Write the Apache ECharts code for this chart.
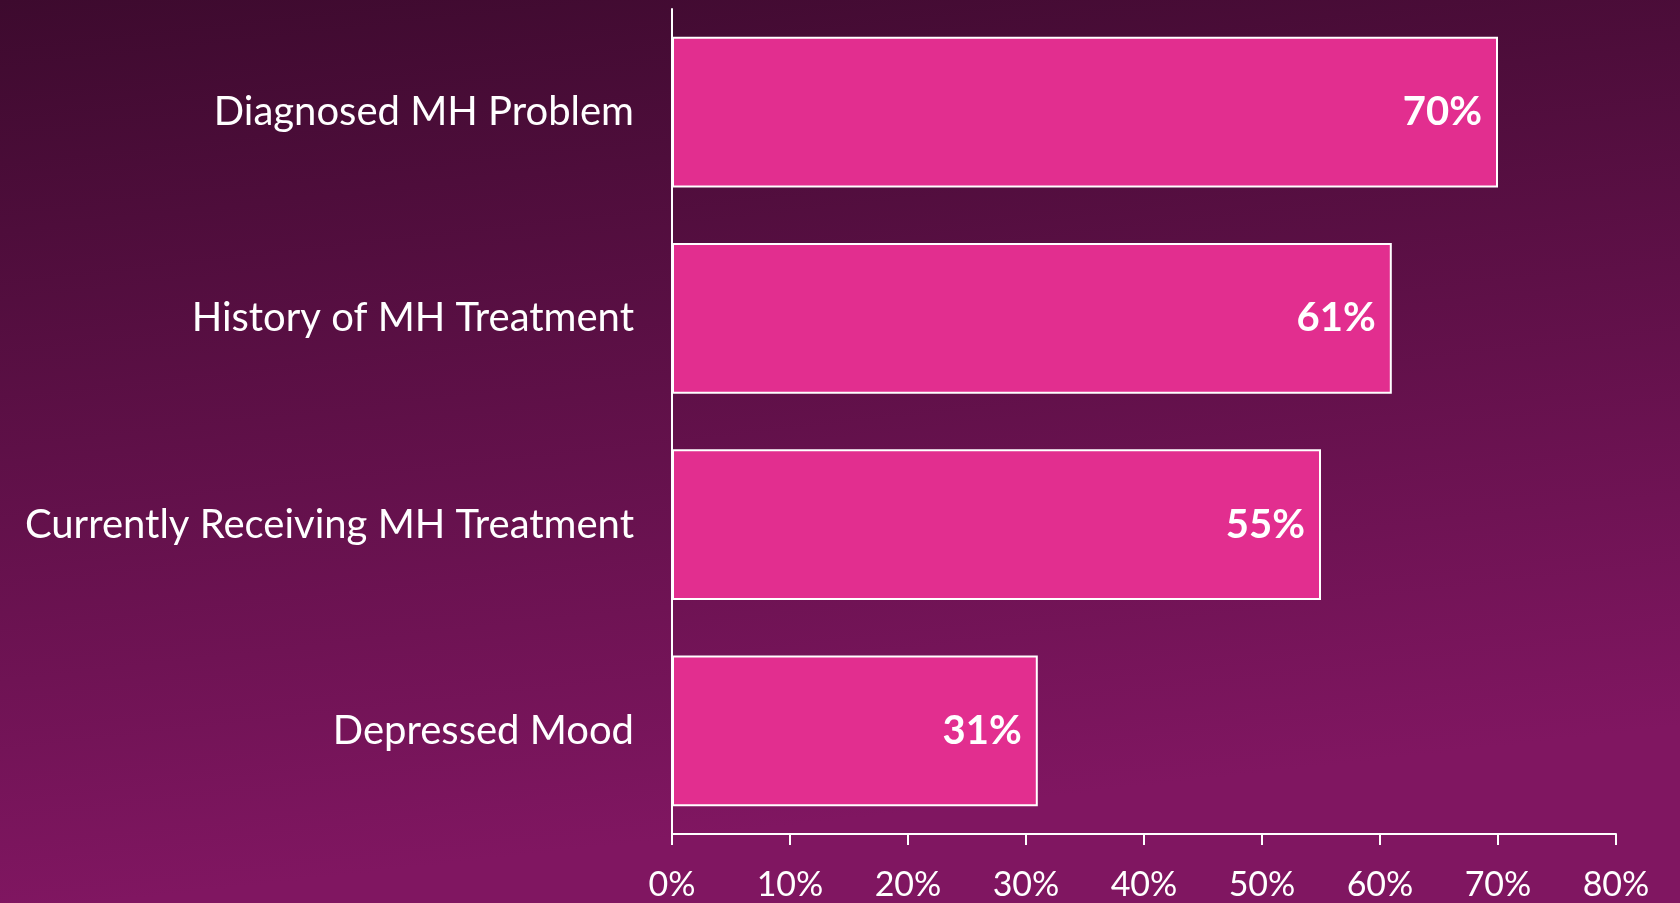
<!DOCTYPE html>
<html>
<head>
<meta charset="utf-8">
<script src="https://cdn.jsdelivr.net/npm/echarts@6/dist/echarts.min.js"></script>
<style>
  html, body { margin: 0; padding: 0; }
  #chart { width: 1680px; height: 903px; }
</style>
</head>
<body>
<div id="chart"></div>
<script>
var categories = ["Diagnosed MH Problem", "History of MH Treatment", "Currently Receiving MH Treatment", "Depressed Mood"];
var values = [70, 61, 55, 31];
var tickMax = 80;

var myChart = echarts.init(document.getElementById("chart"));
var fontName = "Lato, 'Open Sans', sans-serif";

var option = {
  backgroundColor: {
    type: "linear", x: 0, y: 0, x2: 0.06, y2: 1,
    colorStops: [
      { offset: 0, color: "#3d0a2e" },
      { offset: 1, color: "#801661" }
    ]
  },
  grid: { left: 672, right: 64, top: 9, bottom: 69 },
  xAxis: {
    type: "value",
    min: 0,
    max: tickMax,
    interval: 10,
    axisLine: { show: true, lineStyle: { color: "#ffffff", width: 2 } },
    axisTick: { show: true, length: 11, lineStyle: { color: "#ffffff", width: 2 } },
    splitLine: { show: false },
    axisLabel: {
      color: "#ffffff",
      fontFamily: fontName,
      fontSize: 34,
      margin: 34,
      formatter: "{value}%"
    }
  },
  yAxis: {
    type: "category",
    inverse: true,
    data: categories,
    axisLine: { show: true, lineStyle: { color: "#ffffff", width: 2 } },
    axisTick: { show: false },
    axisLabel: {
      color: "#ffffff",
      fontFamily: fontName,
      fontSize: 40,
      margin: 38
    }
  },
  series: [
    {
      type: "bar",
      data: values,
      barCategoryGap: "27%",
      itemStyle: { color: "#e22e8f", borderColor: "#ffffff", borderWidth: 2 },
      label: {
        show: true,
        position: "insideRight",
        distance: 16,
        color: "#ffffff",
        fontFamily: fontName,
        fontWeight: "bold",
        fontSize: 40,
        formatter: "{c}%"
      }
    }
  ]
};
myChart.setOption(option);
</script>
</body>
</html>
